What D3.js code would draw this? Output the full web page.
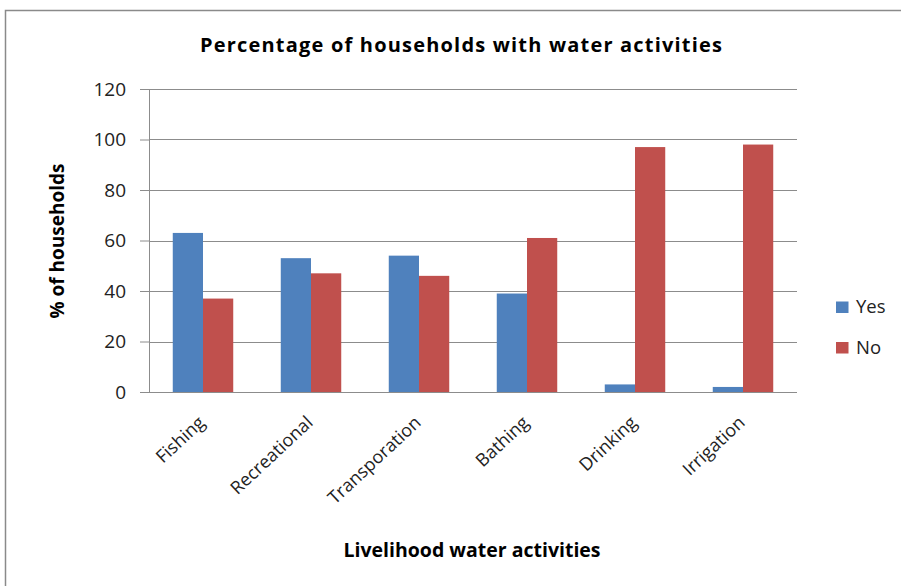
<!DOCTYPE html>
<html lang="en">
<head>
    <meta charset="UTF-8">
    <title>Percentage of households with water activities</title>
    <script src="https://d3js.org/d3.v7.min.js"></script>
    <style>
        body { margin: 0; background: #fff; }
        svg { display: block; font-family: "Open Sans", sans-serif; }
    </style>
</head>
<body>
<svg id="chart" width="901" height="586"></svg>
<script>
    // Data
    const categories = ['Fishing', 'Recreational', 'Transporation', 'Bathing', 'Drinking', 'Irrigation'];
    const seriesNames = ['Yes', 'No'];
    const yesValues = [63, 53, 54, 39, 3, 2];
    const noValues = [37, 47, 46, 61, 97, 98];
    const yTicks = [0, 20, 40, 60, 80, 100, 120];

    const colors = { Yes: '#4F81BD', No: '#C0504D' };

    const data = categories.map((c, i) => ({ category: c, Yes: yesValues[i], No: noValues[i] }));

    const svg = d3.select('#chart');
    const margin = { top: 89, right: 104, bottom: 194, left: 149 };
    const width = 901 - margin.left - margin.right,
          height = 586 - margin.top - margin.bottom;

    // outer chart border
    svg.append('rect')
        .attr('x', 5.5).attr('y', 10.5)
        .attr('width', 1000).attr('height', 1000)
        .attr('fill', 'none')
        .attr('stroke', '#8a8a8a')
        .attr('stroke-width', 1.5);

    const g = svg.append('g').attr('transform', `translate(${margin.left},${margin.top})`);

    const x = d3.scaleBand().domain(categories).range([0, width]);
    const xInner = d3.scaleBand().domain(seriesNames).range([0, x.bandwidth() * 0.56]);
    const y = d3.scaleLinear().domain([0, 120]).range([height, 0]);

    // gridlines
    g.append('g')
        .selectAll('line')
        .data(yTicks)
        .join('line')
        .attr('x1', 0).attr('x2', width)
        .attr('y1', d => Math.round(y(d)) + 0.5).attr('y2', d => Math.round(y(d)) + 0.5)
        .attr('stroke', '#8c8c8c')
        .attr('stroke-width', 1);

    // y axis
    const yAxis = g.append('g')
        .call(d3.axisLeft(y).tickValues(yTicks).tickSize(9).tickPadding(14));
    yAxis.select('.domain').attr('stroke', '#8c8c8c');
    yAxis.selectAll('.tick line').attr('stroke', '#8c8c8c');
    yAxis.selectAll('.tick text')
        .attr('font-family', '"Open Sans", sans-serif')
        .attr('font-size', 19)
        .attr('fill', '#222');

    // bars
    const offset = (x.bandwidth() - xInner.range()[1]) / 2;
    const groups = g.selectAll('.group')
        .data(data)
        .join('g')
        .attr('class', 'group')
        .attr('transform', d => `translate(${x(d.category) + offset},0)`);

    groups.selectAll('rect')
        .data(d => seriesNames.map(s => ({ key: s, value: d[s] })))
        .join('rect')
        .attr('x', d => xInner(d.key))
        .attr('y', d => y(d.value))
        .attr('width', xInner.bandwidth())
        .attr('height', d => height - y(d.value))
        .attr('fill', d => colors[d.key]);

    // x axis line
    g.append('line')
        .attr('x1', 0).attr('x2', width)
        .attr('y1', height + 0.5).attr('y2', height + 0.5)
        .attr('stroke', '#8c8c8c');

    // x labels, rotated
    g.append('g')
        .selectAll('text')
        .data(categories)
        .join('text')
        .attr('transform', d => `translate(${x(d) + x.bandwidth() / 2 + 3},${height + 32}) rotate(-43)`)
        .attr('text-anchor', 'end')
        .attr('font-size', 18)
        .attr('fill', '#222')
        .text(d => d);

    // title
    svg.append('text')
        .attr('x', 461).attr('y', 52)
        .attr('text-anchor', 'middle')
        .attr('font-size', 20)
        .attr('font-weight', 'bold')
        .attr('textLength', 522)
        .attr('lengthAdjust', 'spacing')
        .attr('fill', '#000')
        .text('Percentage of households with water activities');

    // axis titles
    svg.append('text')
        .attr('x', 472).attr('y', 557)
        .attr('text-anchor', 'middle')
        .attr('font-size', 19.5)
        .attr('font-weight', 'bold')
        .attr('fill', '#000')
        .text('Livelihood water activities');

    svg.append('text')
        .attr('transform', 'translate(64,241) rotate(-90)')
        .attr('text-anchor', 'middle')
        .attr('font-size', 19)
        .attr('font-weight', 'bold')
        .attr('fill', '#000')
        .text('% of households');

    // legend
    const legend = svg.append('g').attr('transform', 'translate(836,313)');
    legend.selectAll('g')
        .data(seriesNames)
        .join('g')
        .attr('transform', (d, i) => `translate(0,${i * 40.5})`)
        .call(sel => {
            sel.append('rect')
                .attr('y', -11.5)
                .attr('width', 12.5).attr('height', 11.5)
                .attr('fill', d => colors[d]);
            sel.append('text')
                .attr('x', 20).attr('y', 0)
                .attr('font-size', 18.5)
                .attr('fill', '#222')
                .text(d => d);
        });
</script>
</body>
</html>
